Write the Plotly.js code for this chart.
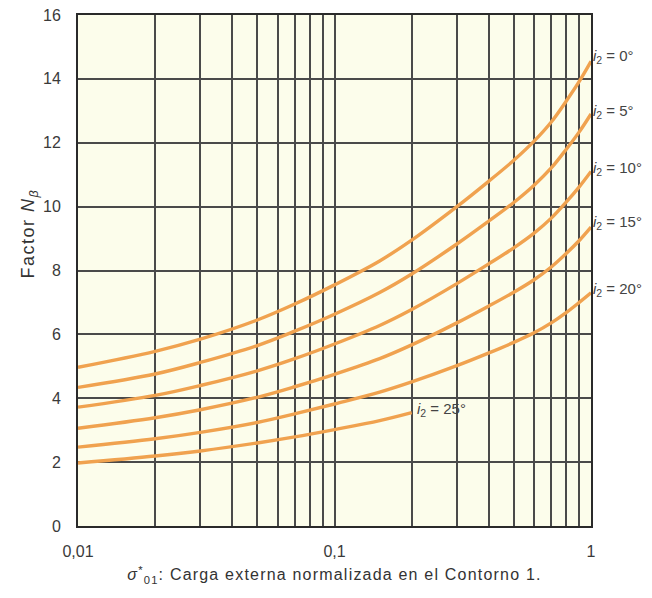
<!DOCTYPE html>
<html>
<head>
<meta charset="utf-8">
<script src="https://cdn.plot.ly/plotly-3.0.1.min.js"></script>
<style>
html,body{margin:0;padding:0;background:#fff;}
#chart{width:652px;height:598px;}
#chart .xtitle{letter-spacing:1.2px;}
#chart .annotation-text.ytitle-ann{letter-spacing:1.5px;}
#chart .gridlayer path{shape-rendering:crispEdges;}
</style>
</head>
<body>
<div id="chart"></div>
<script>
// Abscissa values (normalized external load)
const xLoad = [0.01, 0.02, 0.03, 0.05, 0.07, 0.1, 0.15, 0.2, 0.3, 0.4, 0.5, 0.6, 0.7, 0.8, 0.9, 1.0];
const xLoad25 = [0.01, 0.02, 0.03, 0.05, 0.07, 0.1, 0.15, 0.2];

// Factor N_beta for each i2
const n_i0  = [4.97, 5.47, 5.85, 6.45, 6.95, 7.55, 8.30, 8.95, 10.00, 10.80, 11.45, 12.05, 12.65, 13.30, 13.92, 14.55];
const n_i5  = [4.34, 4.76, 5.12, 5.65, 6.10, 6.63, 7.31, 7.89, 8.83, 9.55, 10.13, 10.67, 11.21, 11.79, 12.34, 12.90];
const n_i10 = [3.72, 4.09, 4.40, 4.86, 5.24, 5.70, 6.28, 6.78, 7.59, 8.21, 8.71, 9.17, 9.64, 10.14, 10.62, 11.10];
const n_i15 = [3.06, 3.39, 3.64, 4.03, 4.36, 4.75, 5.24, 5.67, 6.36, 6.89, 7.32, 7.71, 8.11, 8.53, 8.94, 9.36];
const n_i20 = [2.47, 2.73, 2.93, 3.24, 3.51, 3.82, 4.19, 4.51, 5.02, 5.42, 5.75, 6.05, 6.36, 6.68, 7.00, 7.30];
const n_i25 = [1.97, 2.19, 2.35, 2.60, 2.79, 3.02, 3.30, 3.55];

const labelTexts = ["0°", "5°", "10°", "15°", "20°", "25°"];

// Axis ticks and titles
const xTickVals = [0.01,0.02,0.03,0.04,0.05,0.06,0.07,0.08,0.09,0.1,0.2,0.3,0.4,0.5,0.6,0.7,0.8,0.9,1];
const xTickText = ["0,01","","","","","","","","","0,1","","","","","","","","","1"];
const yTickVals = [0,2,4,6,8,10,12,14,16];
const xTitle = '<i>σ</i><sup>*</sup><sub>01</sub>: Carga externa normalizada en el Contorno 1.';
const yTitle = 'Factor <i>N</i><sub><i>β</i></sub>';

const allY = [n_i0, n_i5, n_i10, n_i15, n_i20, n_i25];
const allX = [xLoad, xLoad, xLoad, xLoad, xLoad, xLoad25];

const curveColor = '#f0a24f';
const traces = allY.map((ys, k) => ({
  x: allX[k], y: ys, type: 'scatter', mode: 'lines', name: 'i2 = ' + labelTexts[k],
  line: {color: curveColor, width: 3.4, shape: 'spline', smoothing: 1},
  hoverinfo: 'skip'
}));

const annotations = allY.map((ys, k) => {
  const xs = allX[k];
  const last = xs.length - 1;
  return {
    x: Math.log10(xs[last]), y: ys[last], xref: 'x', yref: 'y',
    text: '<i>i</i><sub>2</sub> = ' + labelTexts[k],
    showarrow: false, xanchor: 'left', yanchor: 'middle',
    xshift: k === 5 ? 3 : 0, yshift: k === 0 ? 5 : (k === 3 ? 5 : 3),
    font: {family: 'Liberation Sans, Arial, sans-serif', size: 15, color: '#444'}
  };
});
// y-axis title (placed above the vertical middle, as in the reference)
annotations.push({
  x: 0, y: 0.572, xref: 'paper', yref: 'paper', xshift: -48,
  text: yTitle, textangle: -90, showarrow: false,
  xanchor: 'center', yanchor: 'middle',
  font: {family: 'Liberation Sans, Arial, sans-serif', size: 18, color: '#333'}
});

const layout = {
  width: 652, height: 598,
  margin: {l: 78, r: 61, t: 15, b: 72},
  paper_bgcolor: '#ffffff',
  plot_bgcolor: '#fcfdeb',
  showlegend: false,
  font: {family: 'Liberation Sans, Arial, sans-serif', color: '#333'},
  xaxis: {
    type: 'log', range: [-2, 0],
    tickvals: xTickVals, ticktext: xTickText,
    showgrid: true, gridcolor: '#4a4a4a', gridwidth: 2,
    showline: true, linecolor: '#2a2a2a', linewidth: 2, mirror: true,
    ticks: '', ticklabelstandoff: 10,
    tickfont: {size: 16, color: '#3a3a3a'},
    zeroline: false,
    title: {text: xTitle, font: {size: 16, color: '#333'}, standoff: 10}
  },
  yaxis: {
    range: [0, 16], tickvals: yTickVals,
    showgrid: true, gridcolor: '#4a4a4a', gridwidth: 2,
    showline: true, linecolor: '#2a2a2a', linewidth: 2, mirror: true,
    ticks: '', ticklabelstandoff: 12,
    tickfont: {size: 16, color: '#3a3a3a'},
    zeroline: false
  },
  annotations: annotations
};

Plotly.newPlot('chart', traces, layout, {displayModeBar: false, staticPlot: true}).then(() => {
  const anns = document.querySelectorAll('#chart .annotation-text');
  if (anns.length) anns[anns.length - 1].classList.add('ytitle-ann');
});
</script>
</body>
</html>
